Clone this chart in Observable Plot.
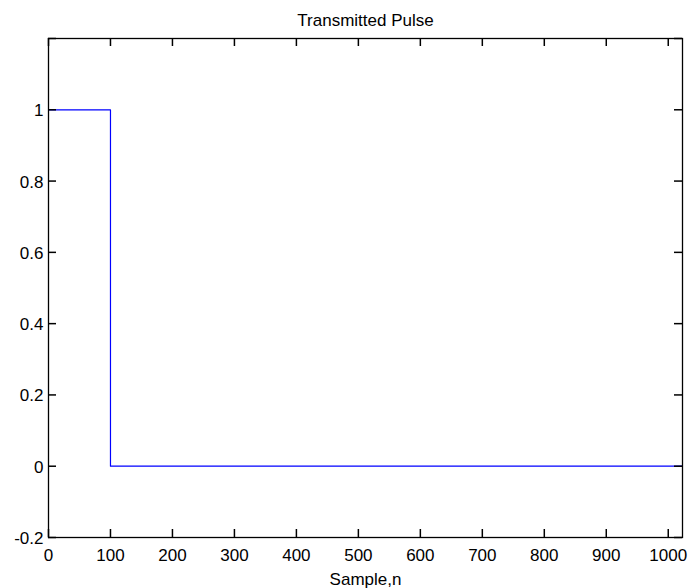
<!DOCTYPE html>
<html>
<head>
<meta charset="utf-8">
<script src="https://cdn.jsdelivr.net/npm/d3@7"></script>
<script src="https://cdn.jsdelivr.net/npm/@observablehq/plot@0.6"></script>
<style>
  html, body { margin: 0; padding: 0; background: #fff; }
</style>
</head>
<body>
<div id="chart"></div>
<script>
// Pulse breakpoints (step-after): value 1 from n=0 until n=100, then 0 to the end
const sampleN = [0, 100, 1023];
const pulseValue = [1, 0, 0];
const xTicks = [0, 100, 200, 300, 400, 500, 600, 700, 800, 900, 1000];
const yTicks = [-0.2, 0, 0.2, 0.4, 0.6, 0.8, 1, 1.2];
const yLabelTicks = [-0.2, 0, 0.2, 0.4, 0.6, 0.8, 1];
const titleText = "Transmitted Pulse";
const xLabelText = "Sample,n";

const data = sampleN.map((n, i) => ({n, v: pulseValue[i]}));

const W = 688, H = 588, ML = 48, MR = 6, MT = 38, MB = 51, TL = 8;
const fw = W - ML - MR, fh = H - MT - MB;
const xDom = [0, 1023], yDom = [-0.2, 1.2];
// tick length converted from pixels to data units through the scale extents
const tyLen = (yDom[1] - yDom[0]) * TL / fh;
const txLen = (xDom[1] - xDom[0]) * TL / fw;

const chart = Plot.plot({
  width: W,
  height: H,
  marginLeft: ML,
  marginRight: MR,
  marginTop: MT,
  marginBottom: MB,
  style: {fontFamily: "Liberation Sans, Arial, sans-serif", fontSize: "17px", color: "#000", background: "#fff"},
  x: {domain: xDom},
  y: {domain: yDom},
  marks: [
    Plot.line(data, {x: "n", y: "v", curve: "step-after", stroke: "#0000ff", strokeWidth: 1.2}),
    Plot.axisX({anchor: "bottom", ticks: xTicks, tickSize: 0, tickPadding: 11, tickFormat: d => String(d), label: null}),
    Plot.axisY({anchor: "left", ticks: yLabelTicks, tickSize: 0, tickPadding: 5, tickFormat: d => String(d), label: null, dy: 1}),
    // inward tick marks on all four sides
    Plot.ruleX(xTicks, {x: d => d, y1: yDom[0], y2: yDom[0] + tyLen, stroke: "#000", strokeWidth: 1.5}),
    Plot.ruleX(xTicks, {x: d => d, y1: yDom[1], y2: yDom[1] - tyLen, stroke: "#000", strokeWidth: 1.5}),
    Plot.ruleY(yTicks, {y: d => d, x1: xDom[0], x2: xDom[0] + txLen, stroke: "#000", strokeWidth: 1.5}),
    Plot.ruleY(yTicks, {y: d => d, x1: xDom[1], x2: xDom[1] - txLen, stroke: "#000", strokeWidth: 1.5}),
    Plot.frame({stroke: "#000", strokeWidth: 1.3}),
    Plot.text([titleText], {text: d => d, frameAnchor: "top", lineAnchor: "bottom", dy: -13, fontSize: 17}),
    Plot.text([xLabelText], {text: d => d, frameAnchor: "bottom", lineAnchor: "bottom", dy: 47, fontSize: 17})
  ]
});
document.getElementById("chart").appendChild(chart);
</script>
</body>
</html>
